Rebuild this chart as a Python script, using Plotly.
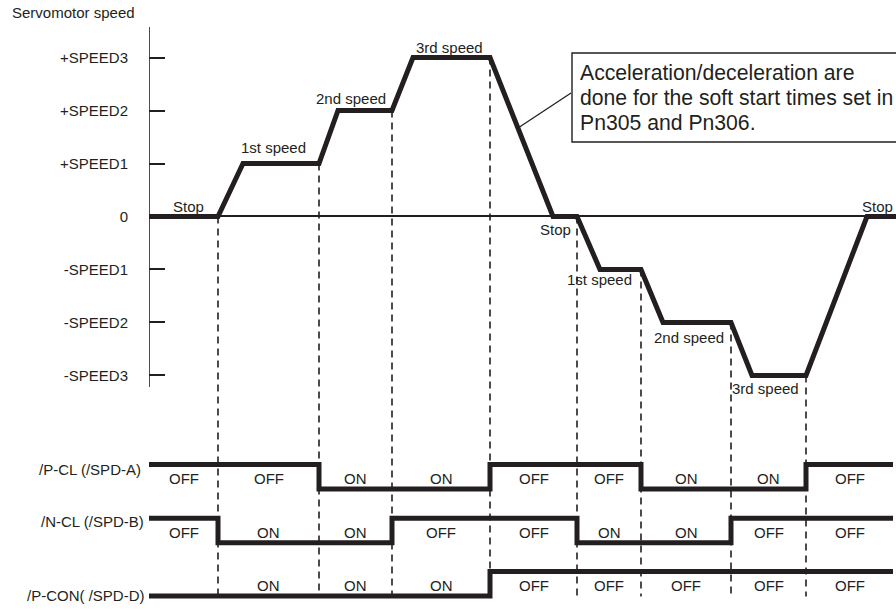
import plotly.graph_objects as go

# ---------------- data ----------------
# speed profile corners: time (arbitrary units) and speed level
speed_time = [0, 69, 94, 170, 189, 243, 264, 341, 404, 428, 451, 492, 514, 582, 603, 657, 718, 747]
speed_level = [0, 0, 1, 1, 2, 2, 3, 3, 0, 0, -1, -1, -2, -2, -3, -3, 0, 0]

speed_tick_vals = [3, 2, 1, 0, -1, -2, -3]
speed_tick_text = ["+SPEED3", "+SPEED2", "+SPEED1", "0", "-SPEED1", "-SPEED2", "-SPEED3"]

# input switching instants (segment boundaries) and speed reached at each switch
switch_time = [0, 69, 170, 243, 341, 428, 492, 582, 657, 744]
switch_speed = [0, 1, 2, 3, 0, -1, -2, -3]

signal_names = ["/P-CL (/SPD-A)", "/N-CL (/SPD-B)", "/P-CON( /SPD-D)"]
pcl_state = ["OFF", "OFF", "ON", "ON", "OFF", "OFF", "ON", "ON", "OFF"]
ncl_state = ["OFF", "ON", "ON", "OFF", "OFF", "ON", "ON", "OFF", "OFF"]
pcon_state = ["ON", "ON", "ON", "ON", "OFF", "OFF", "OFF", "OFF", "OFF"]
pcon_label_shown = [False, True, True, True, True, True, True, True, True]

speed_phase_text = ["Stop", "1st speed", "2nd speed", "3rd speed",
                    "Stop", "1st speed", "2nd speed", "3rd speed", "Stop"]

note_lines = ["Acceleration/deceleration are",
              "done for the soft start times set in",
              "Pn305 and Pn306."]

# ---------------- layout helpers ----------------
INK = "#231f20"
FONT = "Liberation Sans, Arial, Helvetica, sans-serif"
row_low = [-5.14, -6.155, -7.16]
row_amp = 0.46
states_all = [pcl_state, ncl_state, pcon_state]

fig = go.Figure()

# speed profile
fig.add_trace(go.Scatter(x=speed_time, y=speed_level, mode="lines",
                         line=dict(color=INK, width=5), hoverinfo="skip",
                         showlegend=False))

# signal traces
for r, states in enumerate(states_all):
    lv = [row_low[r] + (row_amp if s == "OFF" else 0) for s in states]
    lv = lv + [lv[-1]]
    fig.add_trace(go.Scatter(x=switch_time, y=lv, mode="lines", line_shape="hv",
                             line=dict(color=INK, width=5), hoverinfo="skip",
                             showlegend=False))

shapes = []
# vertical axis line
shapes.append(dict(type="line", xref="x", yref="y", x0=0, x1=0, y0=-3.217, y1=3.575,
                   line=dict(color=INK, width=1.6)))
# dashed switching lines
for t, v in zip(switch_time[1:9], switch_speed):
    shapes.append(dict(type="line", xref="x", yref="y", x0=t, x1=t, y0=v, y1=-7.17,
                       line=dict(color=INK, width=1.6, dash="7px,5px"), layer="below"))
# callout box and leader
shapes.append(dict(type="rect", xref="x", yref="y", x0=423, x1=770, y0=1.406, y1=3.085,
                   line=dict(color=INK, width=1.4), fillcolor="white"))
shapes.append(dict(type="line", xref="x", yref="y", x0=369, y0=1.67, x1=422, y1=2.33,
                   line=dict(color=INK, width=1.3)))

ann = []
# signal on/off labels
for r, states in enumerate(states_all):
    for i, s in enumerate(states):
        if r == 2 and not pcon_label_shown[i]:
            continue
        tc = (switch_time[i] + switch_time[i + 1]) / 2
        ann.append(dict(x=tc, y=row_low[r] + 0.19, xref="x", yref="y", text=s,
                        showarrow=False, xanchor="center", yanchor="middle",
                        font=dict(size=15, color=INK, family=FONT)))
# signal names (paper coordinates, left of the time axis)
name_pos = [(143, 469), (146, 521), (147, 595)]
for nm, (px, py) in zip(signal_names, name_pos):
    ann.append(dict(x=px / 896, y=1 - py / 610, xref="paper", yref="paper", text=nm,
                    showarrow=False, xanchor="right", yanchor="middle",
                    font=dict(size=15, color=INK, family=FONT)))
# speed phase labels
phase_pos = [(39, 0.18, "center"), (124, 1.3, "center"), (202, 2.23, "center"),
             (300, 3.19, "center"), (406, -0.24, "center"), (450, -1.18, "center"),
             (540, -2.28, "center"), (616, -3.25, "center"), (746, 0.18, "right")]
for txt, (tx, ty, xa) in zip(speed_phase_text, phase_pos):
    ann.append(dict(x=tx, y=ty, xref="x", yref="y", text=txt, showarrow=False,
                    xanchor=xa, yanchor="middle",
                    font=dict(size=15, color=INK, family=FONT)))
# callout text, one annotation per line
for k, line in enumerate(note_lines):
    ann.append(dict(x=429, y=(216.5 - (72 + 25 * k)) / 53.0, xref="x", yref="y",
                    text=line, showarrow=False, xanchor="left", yanchor="middle",
                    align="left", font=dict(size=21.2, color=INK, family=FONT)))
# axis title
ann.append(dict(x=10 / 896, y=1 - 13 / 610, xref="paper", yref="paper",
                text="Servomotor speed", showarrow=False, xanchor="left",
                yanchor="middle", font=dict(size=15, color=INK, family=FONT)))

fig.update_layout(
    width=896, height=610, autosize=False,
    margin=dict(l=0, r=0, t=0, b=0),
    paper_bgcolor="white", plot_bgcolor="white",
    showlegend=False,
    xaxis=dict(domain=[149 / 896, 1], range=[0, 747], visible=False, fixedrange=True),
    yaxis=dict(domain=[0, 1], range=[-7.425, 4.085], showgrid=False,
               showline=False, zeroline=True, zerolinecolor=INK, zerolinewidth=1.6,
               tickmode="array", tickvals=speed_tick_vals, ticktext=speed_tick_text,
               ticks="inside", ticklen=16, tickwidth=1.6, tickcolor=INK,
               ticklabelstandoff=20,
               tickfont=dict(size=15, color=INK, family=FONT), fixedrange=True),
    shapes=shapes, annotations=ann,
)

fig.write_html("out.html", config={"displayModeBar": False},
               post_script="document.body.style.margin='0';document.body.style.overflow='hidden';")
